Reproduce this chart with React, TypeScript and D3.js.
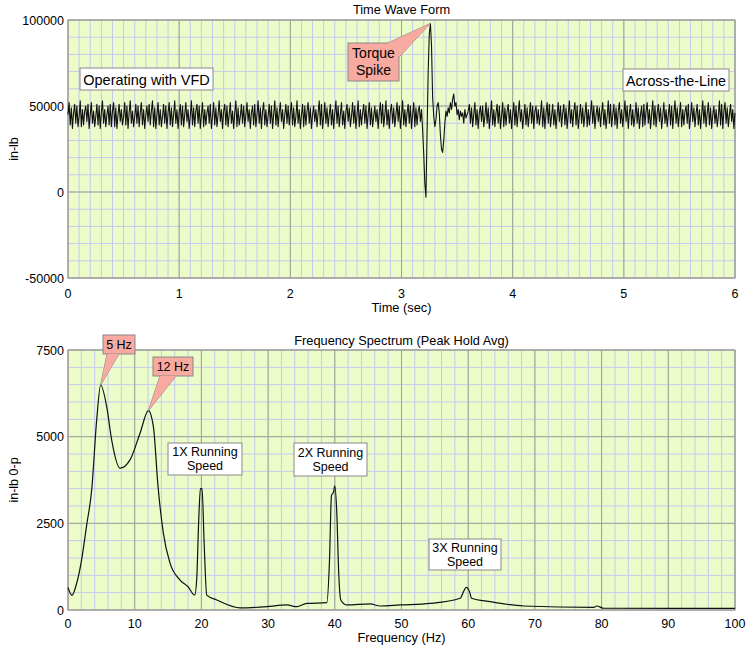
import React from 'react';
import * as d3 from 'd3';

// time waveform, sampled every 10 ms, values in thousands of in-lb
const timeStep = 0.01;
const torqueK: number[] = [
  // 0.0 s
  45, 52, 39, 49, 37, 46, 51, 40, 50, 38, 44, 53, 38, 48, 39, 47, 50, 41, 51, 37,
  45, 52, 40, 47, 38, 44, 51, 39, 50, 37, 46, 53, 40, 48, 38, 45, 50, 39, 51, 38,
  47, 52, 38, 49, 37, 45, 51, 41, 48, 39, 44, 52, 39, 50, 37, 46, 53, 40, 47, 38,
  44, 51, 40, 50, 38, 46, 52, 39, 48, 37, 45, 50, 41, 51, 39, 47, 53, 38, 49, 37,
  45, 52, 39, 48, 38, 44, 51, 40, 50, 37, 46, 52, 39, 49, 38, 45, 53, 40, 48, 37,
  // 1.0 s
  46, 51, 39, 50, 38, 45, 52, 41, 48, 37, 44, 53, 39, 49, 38, 47, 51, 40, 50, 37,
  45, 52, 38, 48, 39, 46, 50, 40, 51, 37, 44, 52, 39, 49, 38, 45, 53, 41, 48, 37,
  47, 51, 39, 50, 38, 45, 52, 40, 47, 37, 46, 53, 38, 49, 39, 44, 51, 40, 50, 38,
  45, 52, 41, 48, 37, 46, 50, 39, 51, 38, 45, 53, 40, 49, 37, 47, 52, 39, 48, 38,
  44, 51, 40, 50, 37, 45, 53, 39, 49, 38, 46, 52, 41, 48, 37, 45, 51, 40, 50, 39,
  // 2.0 s
  46, 52, 39, 49, 38, 44, 53, 40, 48, 37, 45, 51, 38, 50, 39, 47, 52, 40, 49, 37,
  45, 50, 41, 48, 38, 46, 53, 39, 51, 37, 44, 52, 40, 49, 38, 45, 51, 39, 48, 37,
  46, 53, 40, 50, 38, 45, 52, 39, 47, 37, 47, 51, 41, 49, 38, 44, 52, 40, 50, 37,
  45, 53, 38, 48, 39, 46, 51, 40, 50, 37, 45, 52, 39, 49, 38, 44, 50, 41, 48, 37,
  46, 52, 40, 51, 38, 45, 53, 39, 48, 37, 47, 51, 40, 49, 38, 45, 52, 41, 50, 37,
  // 3.0 s
  44, 53, 39, 48, 38, 46, 51, 40, 50, 37, 45, 52, 38, 49, 39, 47, 50, 41, 48, 36,
  // 3.2 s - torque spike
  22, 5, -3, 35, 70, 92, 98, 85, 55, 44, 38, 42, 50, 52, 46, 33, 25, 23, 30, 40,
  47, 44, 49, 46, 52, 48, 54, 57, 50, 52, 45, 48, 42, 47, 44, 46, 40, 48, 43, 45,
  // 3.6 s
  47, 51, 40, 49, 38, 45, 52, 39, 48, 37, 46, 50, 41, 50, 38, 44, 52, 40, 49, 37,
  45, 53, 39, 48, 38, 46, 51, 40, 50, 37, 44, 52, 38, 49, 39, 47, 51, 40, 48, 37,
  // 4.0 s
  45, 52, 39, 50, 38, 46, 53, 41, 48, 37, 44, 51, 39, 49, 38, 45, 52, 40, 50, 37,
  47, 50, 40, 48, 39, 45, 53, 38, 49, 37, 46, 52, 40, 51, 38, 44, 51, 39, 48, 37,
  45, 52, 41, 50, 38, 46, 51, 39, 49, 37, 45, 53, 40, 48, 38, 47, 52, 39, 50, 37,
  44, 51, 40, 49, 38, 45, 52, 38, 48, 39, 46, 53, 40, 50, 37, 45, 50, 41, 49, 38,
  46, 52, 39, 48, 37, 44, 53, 40, 51, 38, 45, 51, 39, 49, 37, 47, 52, 40, 48, 38,
  // 5.0 s
  45, 53, 41, 50, 37, 46, 51, 39, 48, 38, 44, 52, 40, 49, 37, 45, 50, 38, 51, 39,
  47, 52, 40, 48, 37, 45, 53, 39, 50, 38, 46, 51, 41, 49, 37, 44, 52, 40, 48, 38,
  45, 51, 39, 50, 37, 46, 53, 40, 49, 38, 45, 52, 38, 48, 39, 47, 50, 40, 51, 37,
  44, 52, 41, 49, 38, 46, 51, 39, 48, 37, 45, 53, 40, 50, 38, 46, 52, 39, 49, 37,
  45, 50, 40, 48, 38, 44, 53, 39, 51, 37, 47, 52, 40, 49, 38, 45, 51, 41, 48, 37,
  // 6.0 s
  46,
];

// frequency spectrum (peak hold avg)
const freqHz = [0, 0.6, 1.2, 2, 2.8, 3.55, 4.3, 4.9, 5.8, 6.55, 7.8, 9.3, 10.8, 12.05, 12.8, 13.5, 14.3, 15.3, 16.8, 18, 19, 19.3, 19.6, 19.85, 20.1, 20.4, 20.8, 22.3, 25.8, 29.8, 32.8, 34.3, 35.8, 38.8, 39.2, 39.5, 39.8, 40.0, 40.3, 40.6, 40.9, 41.8, 45.3, 46.8, 49.8, 54.3, 58.8, 59.3, 59.7, 60.2, 60.5, 63.3, 68.3, 78.8, 79.3, 80.3, 100];
const ampInLb = [650, 420, 700, 1400, 2450, 3460, 5480, 6490, 5865, 4900, 4090, 4330, 5100, 5750, 5290, 3560, 2210, 1350, 865, 670, 430, 900, 2600, 3500, 3500, 2000, 430, 290, 60, 95, 145, 95, 190, 210, 1400, 3300, 3400, 3580, 2800, 1000, 290, 145, 175, 115, 145, 190, 340, 530, 655, 530, 340, 240, 115, 75, 115, 50, 45];

const timeTicks = [0, 1, 2, 3, 4, 5, 6];
const torqueTicks = [-50000, 0, 50000, 100000];
const freqTicks = [0, 10, 20, 30, 40, 50, 60, 70, 80, 90, 100];
const ampTicks = [0, 2500, 5000, 7500];

const W = 746;
const H = 648;
const FONT = '"Liberation Sans", Arial, sans-serif';
const BG = '#ecfcc9';
const MINOR = '#c6c8ef';
const MAJOR = '#9ea58c';
const CALLOUT = '#f8aaa0';

const xT = d3.scaleLinear().domain([0, 6]).range([68, 735]);
const yT = d3.scaleLinear().domain([-50000, 100000]).range([278, 20]);
const xF = d3.scaleLinear().domain([0, 100]).range([68, 735]);
const yF = d3.scaleLinear().domain([0, 7500]).range([610, 350]);

type Sc = d3.ScaleLinear<number, number>;

function Grid({ x, y, xMinor, yMinor, xMajor, yMajor }: { x: Sc; y: Sc; xMinor: number[]; yMinor: number[]; xMajor: number[]; yMajor: number[] }) {
  const [x0, x1] = x.range();
  const [y0, y1] = y.range();
  return (
    <g>
      <rect x={x0} y={y1} width={x1 - x0} height={y0 - y1} fill={BG} />
      {xMinor.map((v, i) => (
        <line key={'xm' + i} x1={x(v)} x2={x(v)} y1={y0} y2={y1} stroke={MINOR} strokeWidth={1} />
      ))}
      {yMinor.map((v, i) => (
        <line key={'ym' + i} x1={x0} x2={x1} y1={y(v)} y2={y(v)} stroke={MINOR} strokeWidth={1} />
      ))}
      {xMajor.map((v, i) => (
        <line key={'xM' + i} x1={x(v)} x2={x(v)} y1={y0} y2={y1} stroke={MAJOR} strokeWidth={1} />
      ))}
      {yMajor.map((v, i) => (
        <line key={'yM' + i} x1={x0} x2={x1} y1={y(v)} y2={y(v)} stroke={MAJOR} strokeWidth={1} />
      ))}
      <rect x={x0} y={y1} width={x1 - x0} height={y0 - y1} fill="none" stroke="#999" strokeWidth={1} />
    </g>
  );
}

function TextBox({ x, y, w, h, lines, baselines, size = 12.5 }: { x: number; y: number; w: number; h: number; lines: string[]; baselines: number[]; size?: number }) {
  return (
    <g>
      <rect x={x} y={y} width={w} height={h} fill="#fff" stroke="#888" strokeWidth={1} />
      {lines.map((t, i) => (
        <text key={i} x={x + w / 2} y={baselines[i]} textAnchor="middle" fontSize={size} fill="#000">{t}</text>
      ))}
    </g>
  );
}

function Callout({ x, y, w, h, base, tip, lines, baselines, size = 12.5 }: { x: number; y: number; w: number; h: number; base: [number, number][]; tip: [number, number]; lines: string[]; baselines: number[]; size?: number }) {
  const wedge = [base[0], tip, base[1]].map((p) => p.join(',')).join(' ');
  return (
    <g>
      <polygon points={wedge} fill={CALLOUT} stroke="#888" strokeWidth={1} />
      <rect x={x} y={y} width={w} height={h} fill={CALLOUT} stroke="#888" strokeWidth={1} />
      <polygon points={wedge} fill={CALLOUT} stroke="none" />
      {lines.map((t, i) => (
        <text key={i} x={x + w / 2} y={baselines[i]} textAnchor="middle" fontSize={size} fill="#000">{t}</text>
      ))}
    </g>
  );
}

export default function App() {
  const timeLine = d3
    .line<number>()
    .x((_, i) => xT(i * timeStep))
    .y((d) => yT(d * 1000))(torqueK) || '';

  const specLine = d3
    .line<number>()
    .x((_, i) => xF(freqHz[i]))
    .y((d) => yF(d))
    .curve(d3.curveMonotoneX)(ampInLb) || '';

  const peakT = 3.26;
  const peakV = d3.max(torqueK)! * 1000;

  return (
    <svg width={W} height={H} style={{ position: 'absolute', left: 0, top: 0, background: '#fff' }} fontFamily={FONT}>
      {/* Time wave form */}
      <Grid
        x={xT}
        y={yT}
        xMinor={d3.range(0, 6.0001, 0.1)}
        yMinor={d3.range(-50000, 100001, 10000)}
        xMajor={timeTicks}
        yMajor={torqueTicks}
      />
      <path d={timeLine} fill="none" stroke="#111" strokeWidth={1.1} strokeLinejoin="round" />
      <text x={(xT(0) + xT(6)) / 2} y={14} textAnchor="middle" fontSize={12.8}>Time Wave Form</text>
      {timeTicks.map((t) => (
        <text key={t} x={xT(t)} y={298} textAnchor="middle" fontSize={12.5}>{t}</text>
      ))}
      {torqueTicks.map((t) => (
        <text key={t} x={64} y={yT(t) + 4.5} textAnchor="end" fontSize={12.5}>{t}</text>
      ))}
      <text x={(xT(0) + xT(6)) / 2} y={312} textAnchor="middle" fontSize={12.8}>Time (sec)</text>
      <text transform={`translate(18,${(yT(-50000) + yT(100000)) / 2}) rotate(-90)`} textAnchor="middle" fontSize={12.5}>in-lb</text>

      <TextBox x={80} y={68} w={133} h={22} lines={['Operating with VFD']} baselines={[84.5]} size={14.5} />
      <TextBox x={623} y={69} w={106} h={22} lines={['Across-the-Line']} baselines={[85.5]} size={14.3} />
      <Callout
        x={348}
        y={43}
        w={51}
        h={38}
        base={[[388, 43], [399, 57]]}
        tip={[xT(peakT), yT(peakV)]}
        lines={['Torque', 'Spike']}
        baselines={[58, 75]}
        size={14}
      />

      {/* Frequency spectrum */}
      <Grid
        x={xF}
        y={yF}
        xMinor={d3.range(0, 100.001, 2)}
        yMinor={d3.range(0, 7501, 500)}
        xMajor={freqTicks}
        yMajor={ampTicks}
      />
      <path d={specLine} fill="none" stroke="#111" strokeWidth={1.2} strokeLinejoin="round" />
      <text x={(xF(0) + xF(100)) / 2} y={345} textAnchor="middle" fontSize={12.8}>Frequency Spectrum (Peak Hold Avg)</text>
      {freqTicks.map((t) => (
        <text key={t} x={xF(t)} y={628} textAnchor="middle" fontSize={12.5}>{t}</text>
      ))}
      {ampTicks.map((t) => (
        <text key={t} x={64} y={yF(t) + 4.5} textAnchor="end" fontSize={12.5}>{t}</text>
      ))}
      <text x={(xF(0) + xF(100)) / 2} y={642} textAnchor="middle" fontSize={12.8}>Frequency (Hz)</text>
      <text transform={`translate(18,${(yF(0) + yF(7500)) / 2}) rotate(-90)`} textAnchor="middle" fontSize={12.5}>in-lb 0-p</text>

      <Callout
        x={103}
        y={335}
        w={32}
        h={19}
        base={[[107, 354], [119, 354]]}
        tip={[xF(4.9), yF(6490)]}
        lines={['5 Hz']}
        baselines={[349]}
      />
      <Callout
        x={153}
        y={357}
        w={40}
        h={19}
        base={[[160, 376], [176, 376]]}
        tip={[xF(12.05), yF(5750)]}
        lines={['12 Hz']}
        baselines={[371]}
      />
      <TextBox x={168} y={443} w={74} h={32} lines={['1X Running', 'Speed']} baselines={[456, 470]} />
      <TextBox x={294} y={443} w={73} h={33} lines={['2X Running', 'Speed']} baselines={[457, 471]} />
      <TextBox x={429} y={539} w={72} h={31} lines={['3X Running', 'Speed']} baselines={[552, 566]} />
    </svg>
  );
}
